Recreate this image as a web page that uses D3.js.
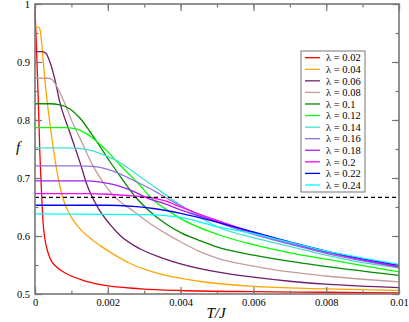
<!DOCTYPE html>
<meta charset="utf-8">
<script src="https://cdn.jsdelivr.net/npm/d3@7"></script>
<style>
  body { margin: 0; background: #fff; }
  svg text { font-family: "Liberation Serif", "Times New Roman", Times, serif; }
</style>
<body>
<div id="chart"></div>
<script>

// lambda values and the f(T) curves, as [T/J, f]
var lambdas = ["0.02", "0.04", "0.06", "0.08", "0.1", "0.12", "0.14", "0.16", "0.18", "0.2", "0.22", "0.24"];

var f002 = [[0,0.99],[0.00004,0.925],[0.00009,0.835],[0.00013,0.75],[0.00018,0.675],[0.00022,0.625],
  [0.00026,0.6],[0.00032,0.58],[0.00041,0.562],[0.0006,0.546],[0.00087,0.535],[0.0013,0.524],
  [0.0018,0.516],[0.0029,0.509],[0.004,0.506],[0.006,0.504],[0.008,0.503],[0.01,0.502]];
var f004 = [[0,0.959],[0.0001,0.96],[0.00014,0.955],[0.00018,0.935],[0.00022,0.905],[0.00027,0.87],
  [0.00033,0.834],[0.00044,0.78],[0.0005,0.752],[0.0006,0.713],[0.0007,0.681],[0.0008,0.659],
  [0.0009,0.644],[0.001,0.632],[0.0012,0.615],[0.0015,0.597],[0.0018,0.583],[0.0022,0.567],
  [0.0026,0.553],[0.003,0.543],[0.0036,0.532],[0.0045,0.522],[0.006,0.513],[0.008,0.509],[0.01,0.506]];
var f006 = [[0,0.918],[0.0002,0.918],[0.0003,0.915],[0.00041,0.9],[0.00055,0.869],[0.00067,0.834],
  [0.00096,0.778],[0.00124,0.726],[0.00143,0.688],[0.0017,0.652],[0.00206,0.62],[0.00234,0.601],
  [0.00288,0.578],[0.0035,0.562],[0.004,0.552],[0.005,0.538],[0.006,0.529],[0.007,0.522],
  [0.008,0.517],[0.01,0.511]];
var f008 = [[0,0.872],[0.00035,0.872],[0.00046,0.87],[0.00055,0.863],[0.00078,0.834],[0.001,0.8],
  [0.0013,0.76],[0.0016,0.72],[0.0019,0.69],[0.0022,0.667],[0.0027,0.643],[0.0031,0.624],
  [0.0036,0.604],[0.004,0.59],[0.0045,0.574],[0.005,0.562],[0.006,0.548],[0.007,0.538],
  [0.008,0.531],[0.01,0.521]];
var f010 = [[0,0.828],[0.0004,0.828],[0.00069,0.826],[0.00096,0.819],[0.00124,0.803],[0.00151,0.78],
  [0.00179,0.754],[0.00206,0.728],[0.00234,0.703],[0.00279,0.665],[0.00311,0.645],[0.00357,0.622],
  [0.00403,0.605],[0.00449,0.593],[0.00495,0.582],[0.006,0.567],[0.0075,0.552],[0.01,0.532]];
var f012 = [[0,0.787],[0.0008,0.787],[0.0011,0.785],[0.0014,0.777],[0.0017,0.763],[0.002,0.745],
  [0.00234,0.722],[0.0028,0.693],[0.00325,0.662],[0.0037,0.642],[0.004,0.63],[0.005,0.603],
  [0.006,0.585],[0.007,0.571],[0.008,0.56],[0.01,0.538]];
var f014 = [[0,0.752],[0.0008,0.752],[0.0012,0.751],[0.0015,0.748],[0.0018,0.742],[0.0023,0.728],
  [0.0028,0.706],[0.0033,0.684],[0.0037,0.666],[0.0042,0.645],[0.005,0.616],[0.006,0.597],
  [0.007,0.582],[0.008,0.567],[0.009,0.554],[0.01,0.545]];
var f016 = [[0,0.721],[0.0012,0.721],[0.0016,0.72],[0.002,0.715],[0.0023,0.708],[0.0028,0.693],
  [0.0033,0.677],[0.0036,0.666],[0.004,0.652],[0.005,0.624],[0.006,0.603],[0.007,0.586],
  [0.008,0.57],[0.009,0.557],[0.01,0.546]];
var f018 = [[0,0.695],[0.0014,0.695],[0.0018,0.693],[0.0022,0.688],[0.0027,0.677],[0.0031,0.665],
  [0.0035,0.657],[0.004,0.645],[0.005,0.625],[0.006,0.605],[0.007,0.588],[0.008,0.572],
  [0.009,0.559],[0.01,0.547]];
var f020 = [[0,0.673],[0.0015,0.673],[0.002,0.672],[0.0025,0.67],[0.0032,0.666],[0.0036,0.66],
  [0.004,0.65],[0.005,0.627],[0.006,0.606],[0.007,0.589],[0.008,0.573],[0.009,0.56],[0.01,0.548]];
var f022 = [[0,0.653],[0.002,0.653],[0.0027,0.651],[0.0033,0.647],[0.004,0.639],[0.005,0.624],
  [0.006,0.607],[0.007,0.59],[0.008,0.574],[0.009,0.561],[0.01,0.55]];
var f024 = [[0,0.638],[0.003,0.637],[0.004,0.632],[0.005,0.616],[0.006,0.604],[0.007,0.589],
  [0.008,0.574],[0.009,0.562],[0.01,0.551]];

var curves = [f002, f004, f006, f008, f010, f012, f014, f016, f018, f020, f022, f024];

var xTicks = [0, 0.002, 0.004, 0.006, 0.008, 0.01];
var xTickLabels = ["0", "0.002", "0.004", "0.006", "0.008", "0.01"];
var yTicks = [0.5, 0.6, 0.7, 0.8, 0.9, 1];
var yTickLabels = ["0.5", "0.6", "0.7", "0.8", "0.9", "1"];
var dashedLevel = 2 / 3;

var colors = ["#ff0000", "#ffa500", "#6f1f6a", "#c49c9c", "#008b00", "#00ff00",
              "#40e0d0", "#9370db", "#a020f0", "#ff00ff", "#0000ff", "#00ffff"];

var serif = "'Liberation Serif', 'Times New Roman', Times, serif";

var W = 409, H = 322;
var margin = {top: 4, right: 10, bottom: 28, left: 35},
    width = W - margin.left - margin.right,
    height = H - margin.top - margin.bottom;

var svg = d3.select("#chart").append("svg")
    .attr("width", W)
    .attr("height", H)
    .attr("font-family", serif)
  .append("g")
    .attr("transform", "translate(" + margin.left + "," + margin.top + ")");

var x = d3.scaleLinear().domain([0, 0.01]).range([0, width]);
var y = d3.scaleLinear().domain([0.5, 1]).range([height, 0]);

var axisColor = "#777";

// curves
var line = d3.line()
    .x(function(d) { return x(d[0]); })
    .y(function(d) { return y(d[1]); })
    .curve(d3.curveMonotoneX);

svg.append("g").selectAll(".curve")
  .data(curves)
  .enter()
  .append("path")
    .attr("class", "curve")
    .attr("fill", "none")
    .attr("stroke", function(d, i) { return colors[i]; })
    .attr("stroke-width", 1.3)
    .attr("d", line);

// dashed line at f = 2/3
svg.append("line")
    .attr("x1", 0).attr("x2", width)
    .attr("y1", y(dashedLevel)).attr("y2", y(dashedLevel))
    .attr("stroke", "#000")
    .attr("stroke-width", 1.1)
    .attr("stroke-dasharray", "4,3");

// axes: major ticks inward with labels, minor ticks without
function styleAxis(g) {
  g.attr("font-family", serif);
  g.select(".domain").remove();
  g.selectAll("line").attr("stroke", axisColor).attr("stroke-width", 1.2);
  g.selectAll("text").attr("fill", "#000").style("font-size", "10.5px");
}

var xMinor = d3.range(0, 0.0101, 0.001);
var yMinor = d3.range(0.5, 1.001, 0.05);

svg.append("g")
    .attr("transform", "translate(0," + height + ")")
    .call(d3.axisBottom(x).tickValues(xTicks)
      .tickFormat(function(d, i) { return xTickLabels[i]; })
      .tickSize(-7).tickPadding(5))
    .call(styleAxis);
svg.append("g")
    .attr("transform", "translate(0," + height + ")")
    .call(d3.axisBottom(x).tickValues(xMinor).tickFormat("").tickSize(-3.5))
    .call(styleAxis);
svg.append("g")
    .call(d3.axisTop(x).tickValues(xTicks).tickFormat("").tickSize(-7))
    .call(styleAxis);
svg.append("g")
    .call(d3.axisTop(x).tickValues(xMinor).tickFormat("").tickSize(-3.5))
    .call(styleAxis);

svg.append("g")
    .call(d3.axisLeft(y).tickValues(yTicks)
      .tickFormat(function(d, i) { return yTickLabels[i]; })
      .tickSize(-7).tickPadding(5))
    .call(styleAxis);
svg.append("g")
    .call(d3.axisLeft(y).tickValues(yMinor).tickFormat("").tickSize(-3.5))
    .call(styleAxis);
svg.append("g")
    .attr("transform", "translate(" + width + ",0)")
    .call(d3.axisRight(y).tickValues(yTicks).tickFormat("").tickSize(-7))
    .call(styleAxis);
svg.append("g")
    .attr("transform", "translate(" + width + ",0)")
    .call(d3.axisRight(y).tickValues(yMinor).tickFormat("").tickSize(-3.5))
    .call(styleAxis);

// frame
svg.append("rect")
    .attr("x", 0).attr("y", 0)
    .attr("width", width).attr("height", height)
    .attr("fill", "none")
    .attr("stroke", axisColor)
    .attr("stroke-width", 1.6);

// axis titles
svg.append("text")
    .attr("x", width / 2 - 1)
    .attr("y", height + 24)
    .attr("text-anchor", "middle")
    .style("font-size", "15px")
    .style("font-style", "italic")
    .text("T/J");

svg.append("text")
    .attr("x", -17)
    .attr("y", y(0.745))
    .attr("text-anchor", "middle")
    .style("font-size", "15px")
    .style("font-style", "italic")
    .text("f");

// legend
var legend = svg.append("g").attr("transform", "translate(266,47)");
legend.append("rect")
    .attr("width", 64).attr("height", 141)
    .attr("fill", "#fff")
    .attr("stroke", axisColor)
    .attr("stroke-width", 1);

var items = legend.selectAll(".item")
  .data(lambdas)
  .enter()
  .append("g")
    .attr("class", "item")
    .attr("transform", function(d, i) { return "translate(0," + (6.7 + i * 11.57) + ")"; });
items.append("line")
    .attr("x1", 4).attr("x2", 19)
    .attr("stroke", function(d, i) { return colors[i]; })
    .attr("stroke-width", 1.3);
items.append("text")
    .attr("x", 25)
    .attr("dy", "0.35em")
    .style("font-size", "10.5px")
    .text(function(d) { return "\u03bb = " + d; });

</script>
</body>
